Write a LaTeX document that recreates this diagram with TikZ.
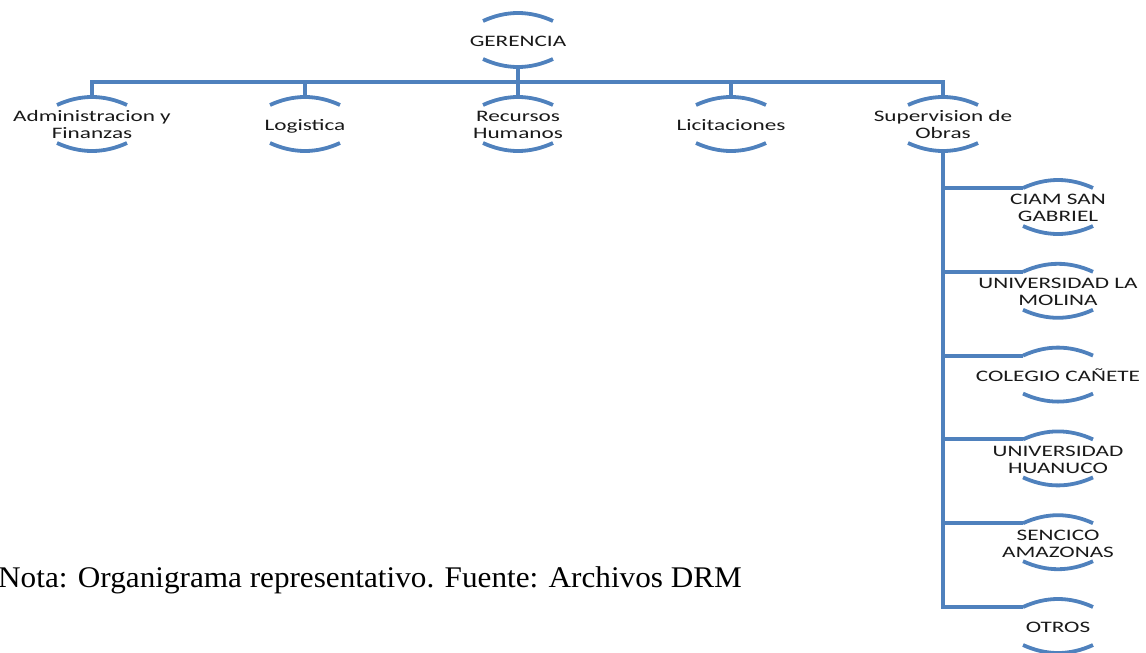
\documentclass[tikz,border=0pt]{standalone}
\usepackage{fontspec}
\usetikzlibrary{calc}
\newfontfamily\orgfont{Carlito}
\newfontfamily\notefont{Liberation Serif}
\definecolor{orgblue}{RGB}{79,129,189}
\definecolor{orgtext}{RGB}{25,25,25}
% node label: Calibri-like text, stretched horizontally and set a little low
\newcommand{\orglabel}[1]{\raisebox{-3pt}[\height][\depth]{\scalebox{1.45}[1]{\fontsize{16}{17}\selectfont\begin{tabular}{@{}c@{}}#1\end{tabular}}}}
% top and bottom arcs of an org unit, 70 wide, measured from the unit's centre
\newcommand{\orgarcs}[1]{%
  \draw[arcline] ($(#1.center)+(-35,-19)$) .. controls ($(#1.center)+(-11.67,-29.67)$) and ($(#1.center)+(11.67,-29.67)$) .. ($(#1.center)+(35,-19)$);
  \draw[arcline] ($(#1.center)+(-35,19)$) .. controls ($(#1.center)+(-11.67,29.67)$) and ($(#1.center)+(11.67,29.67)$) .. ($(#1.center)+(35,19)$);}
\tikzset{
  unit/.style={rectangle, minimum width=70pt, minimum height=54pt, inner sep=0pt,
    font=\orgfont, text=orgtext},
  arcline/.style={draw=orgblue, line width=3.8pt},
  link/.style={draw=orgblue, line width=4pt},
}
\begin{document}
\begin{tikzpicture}[x=1pt, y=-1pt]
\useasboundingbox (0,0) rectangle (1146,653);

% top level
\node[unit] (ger) at (518,40) {\orglabel{GERENCIA}};

% departments
\node[unit] (adm) at (92,124)  {\orglabel{Administracion y\\Finanzas}};
\node[unit] (log) at (305,124) {\orglabel{Logistica}};
\node[unit] (rh)  at (518,124) {\orglabel{Recursos\\Humanos}};
\node[unit] (lic) at (731,124) {\orglabel{Licitaciones}};
\node[unit] (sup) at (943,124) {\orglabel{Supervision de\\Obras}};

% works under supervision
\node[unit] (o1) at (1058,207)   {\orglabel{CIAM SAN\\GABRIEL}};
\node[unit] (o2) at (1058,290.8) {\orglabel{UNIVERSIDAD LA\\MOLINA}};
\node[unit] (o3) at (1058,374.6) {\orglabel{COLEGIO CAÑETE}};
\node[unit] (o4) at (1058,458.4) {\orglabel{UNIVERSIDAD\\HUANUCO}};
\node[unit] (o5) at (1058,542.2) {\orglabel{SENCICO\\AMAZONAS}};
\node[unit] (o6) at (1058,626)   {\orglabel{OTROS}};

\foreach \n in {ger,adm,log,rh,lic,sup,o1,o2,o3,o4,o5,o6} {\orgarcs{\n}}

% connectors
\coordinate (bus) at (518,82);
\draw[link] ($(ger.center)+(0,27)$) -- ($(rh.center)+(0,-27)$);
\draw[link] ($(adm.center)+(0,-27)$) |- (bus) -| ($(sup.center)+(0,-27)$);
\draw[link] ($(log.center)+(0,-27)$) -- (log.center |- bus);
\draw[link] ($(lic.center)+(0,-27)$) -- (lic.center |- bus);
\foreach \n in {o1,o2,o3,o4,o5,o6}
  \draw[link] ($(sup.center)+(0,27)$) |- ($(\n.center)+(-35,-19)$);

% caption
\node[anchor=base west, inner sep=0pt, font=\notefont\fontsize{30}{34}\selectfont] (nota) at (-2,587)
  {\scalebox{1.04}[1]{Nota: Organigrama representativo. Fuente: Archivos DRM}};
\end{tikzpicture}
\end{document}
